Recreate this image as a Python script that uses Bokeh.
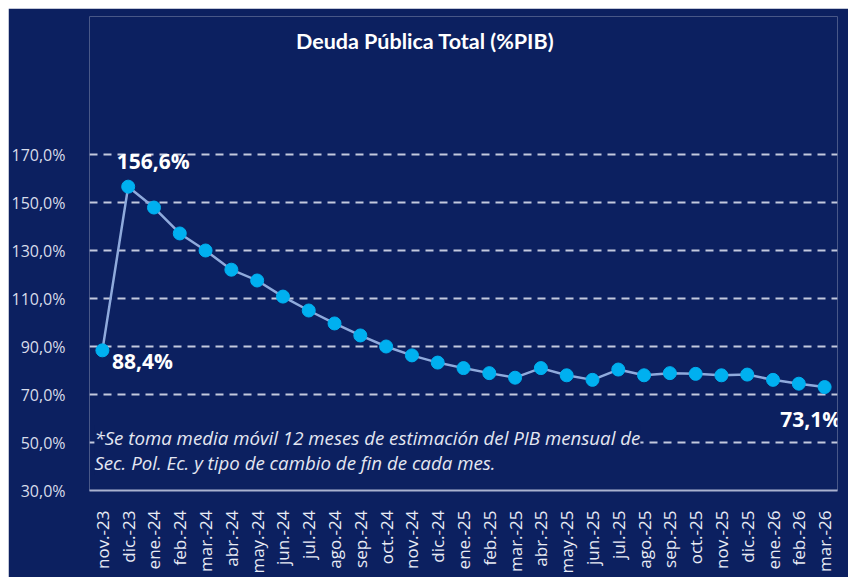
import math
from bokeh.plotting import figure
from bokeh.models import Range1d, FixedTicker, Label, ColumnDataSource
from bokeh.embed import file_html
from bokeh.resources import INLINE

months = ["nov.-23", "dic.-23", "ene.-24", "feb.-24", "mar.-24", "abr.-24", "may.-24",
          "jun.-24", "jul.-24", "ago.-24", "sep.-24", "oct.-24", "nov.-24", "dic.-24",
          "ene.-25", "feb.-25", "mar.-25", "abr.-25", "may.-25", "jun.-25", "jul.-25",
          "ago.-25", "sep.-25", "oct.-25", "nov.-25", "dic.-25", "ene.-26", "feb.-26",
          "mar.-26"]
debt = [88.4, 156.6, 147.9, 137.1, 130.0, 122.0, 117.5, 110.8, 105.0, 99.6, 94.6, 90.0,
        86.3, 83.3, 81.0, 78.9, 77.0, 81.0, 78.0, 76.1, 80.4, 78.0, 78.9, 78.6, 78.0,
        78.3, 76.1, 74.5, 73.1]
y_ticks = [30, 50, 70, 90, 110, 130, 150, 170]
y_tick_labels = ["30,0%", "50,0%", "70,0%", "90,0%", "110,0%", "130,0%", "150,0%", "170,0%"]
title_text = "Deuda Pública Total (%PIB)"
note_lines = ["*Se toma media móvil 12 meses de estimación del PIB mensual de",
              "Sec. Pol. Ec. y tipo de cambio de fin de cada mes."]
labelled_idx = [0, 1, 28]

NAVY = "#0c2060"
x = list(range(len(months)))

p = figure(width=840, height=569, margin=(8, 0, 0, 8),
           output_backend="svg", toolbar_location=None,
           x_range=Range1d(-0.5, 28.5), y_range=Range1d(30, 227.5),
           min_border_left=80, min_border_right=11, min_border_top=8, min_border_bottom=87)
p.background_fill_color = NAVY
p.border_fill_color = NAVY
p.outline_line_color = None

# axes
p.xaxis.ticker = FixedTicker(ticks=x)
p.xaxis.major_label_overrides = {i: m for i, m in zip(x, months)}
p.xaxis.major_label_orientation = math.pi / 2
p.xaxis.major_label_text_font = "Open Sans"
p.xaxis.major_label_text_font_size = "17px"
p.xaxis.major_label_text_color = "#e8ebf5"
p.xaxis.major_label_standoff = 14
p.xaxis.major_tick_line_color = None
p.xaxis.minor_tick_line_color = None
p.xaxis.axis_line_color = "#aab2cf"
p.xaxis.axis_line_width = 2

p.yaxis.ticker = FixedTicker(ticks=y_ticks)
p.yaxis.major_label_overrides = {t: l for t, l in zip(y_ticks, y_tick_labels)}
p.yaxis.major_label_text_font = "Open Sans"
p.yaxis.major_label_text_font_size = "16px"
p.yaxis.major_label_text_color = "#d8dcea"
p.yaxis.major_label_standoff = 18
p.yaxis.axis_line_color = None
p.yaxis.major_tick_line_color = None
p.yaxis.minor_tick_line_color = None

p.xgrid.grid_line_color = None
p.ygrid.ticker = FixedTicker(ticks=y_ticks[1:])
p.ygrid.grid_line_color = "#c3c9de"
p.ygrid.grid_line_width = 2
p.ygrid.grid_line_dash = "8 6"

src = ColumnDataSource(dict(x=x, y=debt))
p.line("x", "y", source=src, line_color="#8faadc", line_width=2.5)
p.scatter("x", "y", source=src, size=13, fill_color="#00b0f0", line_color="#00b0f0")

# data labels
offsets = {0: (40, -11), 1: (25, 26), 28: (-14, -32)}
for i in labelled_idx:
    dx, dy = offsets[i]
    txt = f"{debt[i]:.1f}".replace(".", ",") + "%"
    p.add_layout(Label(x=x[i], y=debt[i], text=txt, x_offset=dx, y_offset=dy,
                       text_align="center", text_baseline="middle",
                       text_font="Open Sans", text_font_style="bold",
                       text_font_size="21px", text_color="white"))

# title
p.add_layout(Label(x=12.51, y=217.5, text=title_text, text_align="center",
                   text_baseline="middle", text_font="Lato", text_font_style="bold",
                   text_font_size="21.5px", text_color="white"))

# footnote
note_y = [52.0, 41.7]
for line_txt, yy in zip(note_lines, note_y):
    p.add_layout(Label(x=-0.31, y=yy, text=line_txt, text_align="left",
                       text_baseline="middle", text_font="Open Sans",
                       text_font_style="italic", text_font_size="18.7px",
                       text_color="#e4e7f2", background_fill_color=NAVY))

open("out.html", "w").write(file_html(p, INLINE))
